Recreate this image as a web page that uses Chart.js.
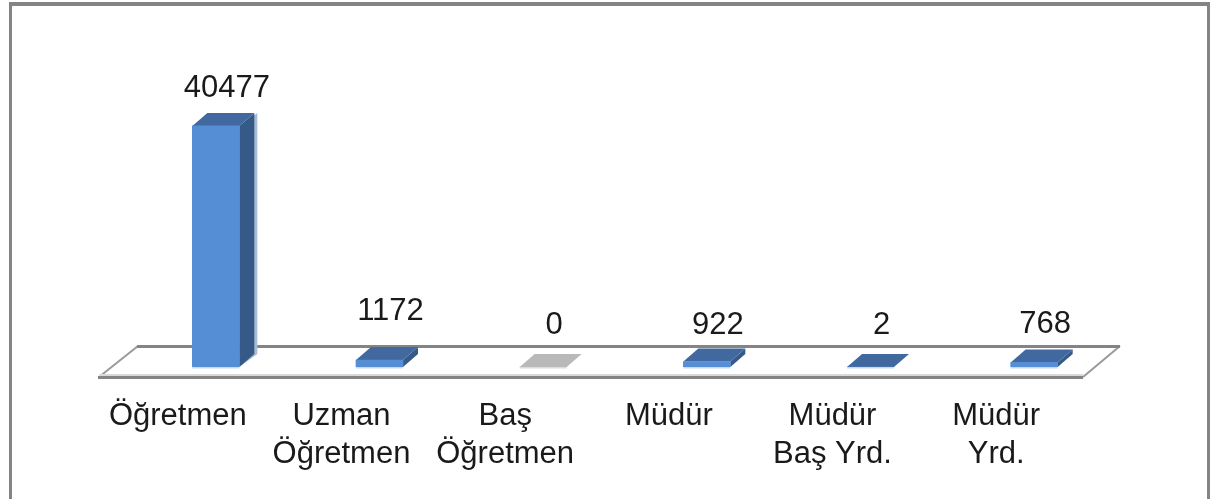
<!DOCTYPE html>
<html>
<head>
<meta charset="utf-8">
<style>
html, body { margin: 0; padding: 0; background: #fff; }
canvas { display: block; }
</style>
<script src="https://cdn.jsdelivr.net/npm/chart.js@4"></script>
</head>
<body>
<canvas id="grafik" width="1211" height="499"></canvas>
<script>
const kategoriler = [
    'Öğretmen',
    ['Uzman', 'Öğretmen'],
    ['Baş', 'Öğretmen'],
    'Müdür',
    ['Müdür', 'Baş Yrd.'],
    ['Müdür', 'Yrd.']
];
const degerler = [40477, 1172, 0, 922, 2, 768];

// per bar nudge of the value labels, the original is not consistent about it
const etiketBosluk = [30, 41, 34, 29, 34, 30];

const YAZI = '"Liberation Sans", sans-serif';
const DX = 15, DY = -13;

const on = degerler.map(v => v === 0 ? '#bdbdbd' : '#558ed5');
const ust = degerler.map(v => v === 0 ? '#b9b9b9' : '#41699f');
const yan = degerler.map(v => v === 0 ? '#b9b9b9' : '#355a88');

function poly(ctx, pts, color) {
    ctx.fillStyle = color;
    ctx.beginPath();
    pts.forEach((p, i) => i ? ctx.lineTo(p[0], p[1]) : ctx.moveTo(p[0], p[1]));
    ctx.closePath();
    ctx.fill();
}

const cerceve = {
    id: 'cerceve',
    beforeDatasetsDraw(chart) {
        const ctx = chart.ctx, a = chart.chartArea;
        ctx.save();
        ctx.fillStyle = '#848484';
        ctx.fillRect(9, 2, 1201, 4);
        ctx.fillRect(9, 2, 3, 497);
        ctx.fillRect(1207, 2, 3, 497);

        // floor of the 3d plot
        const base = a.bottom;
        ctx.strokeStyle = '#9a9a9a';
        ctx.lineWidth = 2;
        ctx.beginPath();
        ctx.moveTo(a.left - 35, base + 10);
        ctx.lineTo(a.left + 4, base - 21);
        ctx.moveTo(a.right + 4, base - 21);
        ctx.lineTo(a.right - 33, base + 10);
        ctx.stroke();
        ctx.fillStyle = '#848484';
        ctx.fillRect(a.left + 3, base - 22, a.right - a.left + 1, 3);
        ctx.fillStyle = '#d9d9d9';
        ctx.fillRect(a.left - 35, base + 7, a.right - a.left + 2, 2);
        ctx.fillStyle = '#848484';
        ctx.fillRect(a.left - 36, base + 9, a.right - a.left + 3, 3);

        // depth faces of the bars
        chart.getDatasetMeta(0).data.forEach((b, i) => {
            const l = b.x - b.width / 2, r = b.x + b.width / 2;
            const hoch = degerler[i] > 2000;
            if (hoch) poly(ctx, [[r, b.y], [r + DX + 3, b.y + DY], [r + DX + 3, b.base + DY], [r, b.base]], '#a9bcd6');
            poly(ctx, [[r, b.y], [r + DX, b.y + DY], [r + DX, b.base + DY], [r, b.base]], yan[i]);
            poly(ctx, [[l, b.y], [l + DX, b.y + DY], [r + DX, b.y + DY], [r, b.y]], ust[i]);
        });
        ctx.restore();
    },
    afterDatasetsDraw(chart) {
        const ctx = chart.ctx;
        ctx.save();
        ctx.font = '31px ' + YAZI;
        ctx.fillStyle = '#1a1a1a';
        ctx.textAlign = 'center';
        ctx.textBaseline = 'alphabetic';
        chart.getDatasetMeta(0).data.forEach((b, i) => {
            // pale line under the front face
            ctx.save();
            ctx.fillStyle = degerler[i] === 0 ? '#dcdcdc' : '#c6d9f1';
            ctx.fillRect(b.x - b.width / 2, b.base, b.width, 1.5);
            ctx.restore();
            ctx.fillText(String(degerler[i]), b.x + 11, b.y - etiketBosluk[i] + 1);
        });
        ctx.restore();
    }
};

new Chart(document.getElementById('grafik'), {
    type: 'bar',
    data: {
        labels: kategoriler,
        datasets: [{
            data: degerler,
            backgroundColor: on,
            barThickness: 47,
            borderWidth: 0
        }]
    },
    options: {
        responsive: false,
        animation: false,
        layout: { padding: { left: 134, right: 95, top: 99, bottom: 0 } },
        plugins: { legend: { display: false }, tooltip: { enabled: false } },
        scales: {
            y: { display: false, min: 0, max: 45000 },
            x: {
                afterFit(axis) { axis.height = 132; },
                grid: { display: false, drawTicks: false },
                border: { display: false },
                ticks: {
                    autoSkip: false,
                    maxRotation: 0,
                    labelOffset: -38,
                    padding: 30,
                    color: '#1a1a1a',
                    font: { family: YAZI, size: 31, lineHeight: '38px' }
                }
            }
        }
    },
    plugins: [cerceve]
});
</script>
</body>
</html>
